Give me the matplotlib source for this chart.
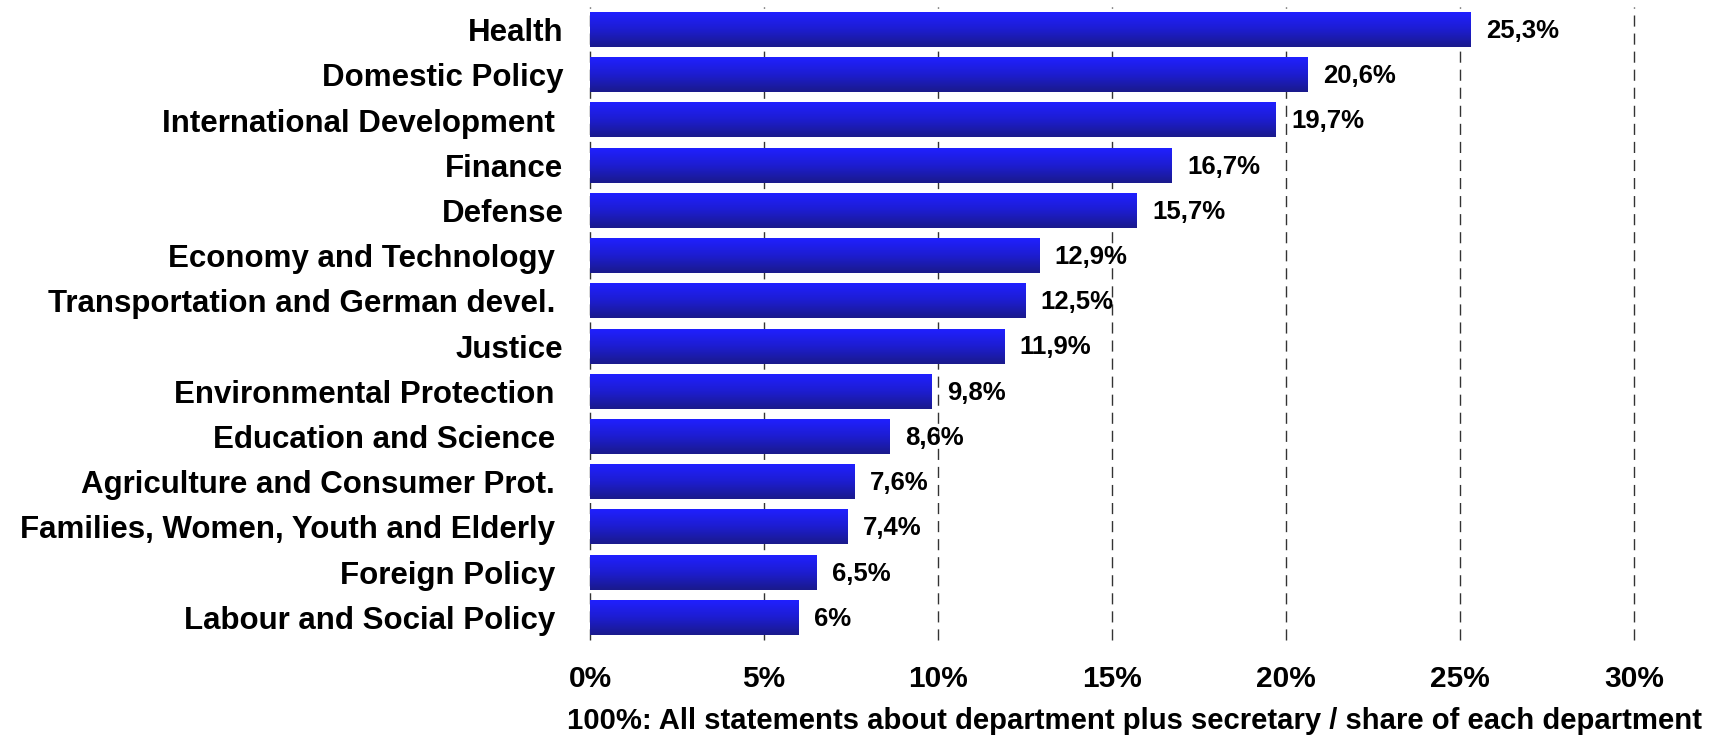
import matplotlib.pyplot as plt
import numpy as np
from matplotlib.colors import LinearSegmentedColormap

departments = [
    "Health", "Domestic Policy", "International Development ", "Finance",
    "Defense", "Economy and Technology ", "Transportation and German devel. ",
    "Justice", "Environmental Protection ", "Education and Science ",
    "Agriculture and Consumer Prot. ", "Families, Women, Youth and Elderly ",
    "Foreign Policy ", "Labour and Social Policy ",
]
shares = [25.3, 20.6, 19.7, 16.7, 15.7, 12.9, 12.5, 11.9, 9.8, 8.6, 7.6, 7.4, 6.5, 6]
value_labels = ["25,3%", "20,6%", "19,7%", "16,7%", "15,7%", "12,9%", "12,5%",
                "11,9%", "9,8%", "8,6%", "7,6%", "7,4%", "6,5%", "6%"]
xticks = [0, 5, 10, 15, 20, 25, 30]
xtick_labels = ["0%", "5%", "10%", "15%", "20%", "25%", "30%"]
note = "100%: All statements about department plus secretary / share of each department"

plt.rcParams['font.family'] = ['Liberation Sans', 'DejaVu Sans']
plt.rcParams['font.weight'] = 'bold'

fig = plt.figure(figsize=(17.18, 7.36), dpi=100)
ax = fig.add_axes([0.3434, 0.1304, 0.6078, 0.8601])

y = np.arange(len(departments))
height = 0.77
bars = ax.barh(y, shares, height=height, color='none', edgecolor='none', zorder=2)

# vertical gradient fill, bright blue on top, navy at the bottom
cmap = LinearSegmentedColormap.from_list("bluebar", ["#2020ff", "#1d1dd0", "#1a1a8c"])
grad = np.linspace(0, 1, 64).reshape(-1, 1)
for bar in bars:
    x0, y0 = bar.get_x(), bar.get_y()
    w, h = bar.get_width(), bar.get_height()
    ax.imshow(grad, cmap=cmap, aspect='auto', extent=(x0, x0 + w, y0 + h, y0),
              origin='upper', zorder=2, interpolation='bilinear')

for yi, v, lab in zip(y, shares, value_labels):
    ax.text(v + 0.45, yi + 0.03, lab, va='center', ha='left', fontsize=18.5, fontweight='bold')

ax.set_xlim(0, 30)
ax.set_ylim(len(departments) - 0.5, -0.5)
ax.set_xticks(xticks)
ax.set_xticklabels(xtick_labels, fontsize=21.5, fontweight='bold')
ax.set_yticks(y)
ax.set_yticklabels(departments, fontsize=22.5, fontweight='bold')
ax.tick_params(axis='x', length=0, pad=18)
ax.tick_params(axis='y', length=0, pad=19)
ax.xaxis.grid(True, linestyle=(0, (8, 5)), color='#333333', linewidth=1, zorder=0)
for gl in ax.xaxis.get_gridlines():
    gl.set_clip_on(False)
ax.set_axisbelow(True)
for s in ax.spines.values():
    s.set_visible(False)

fig.text(0.9907, 0.0095, note, ha='right', va='baseline', fontsize=21.05, fontweight='bold')

fig.savefig("out.png", dpi=100)
